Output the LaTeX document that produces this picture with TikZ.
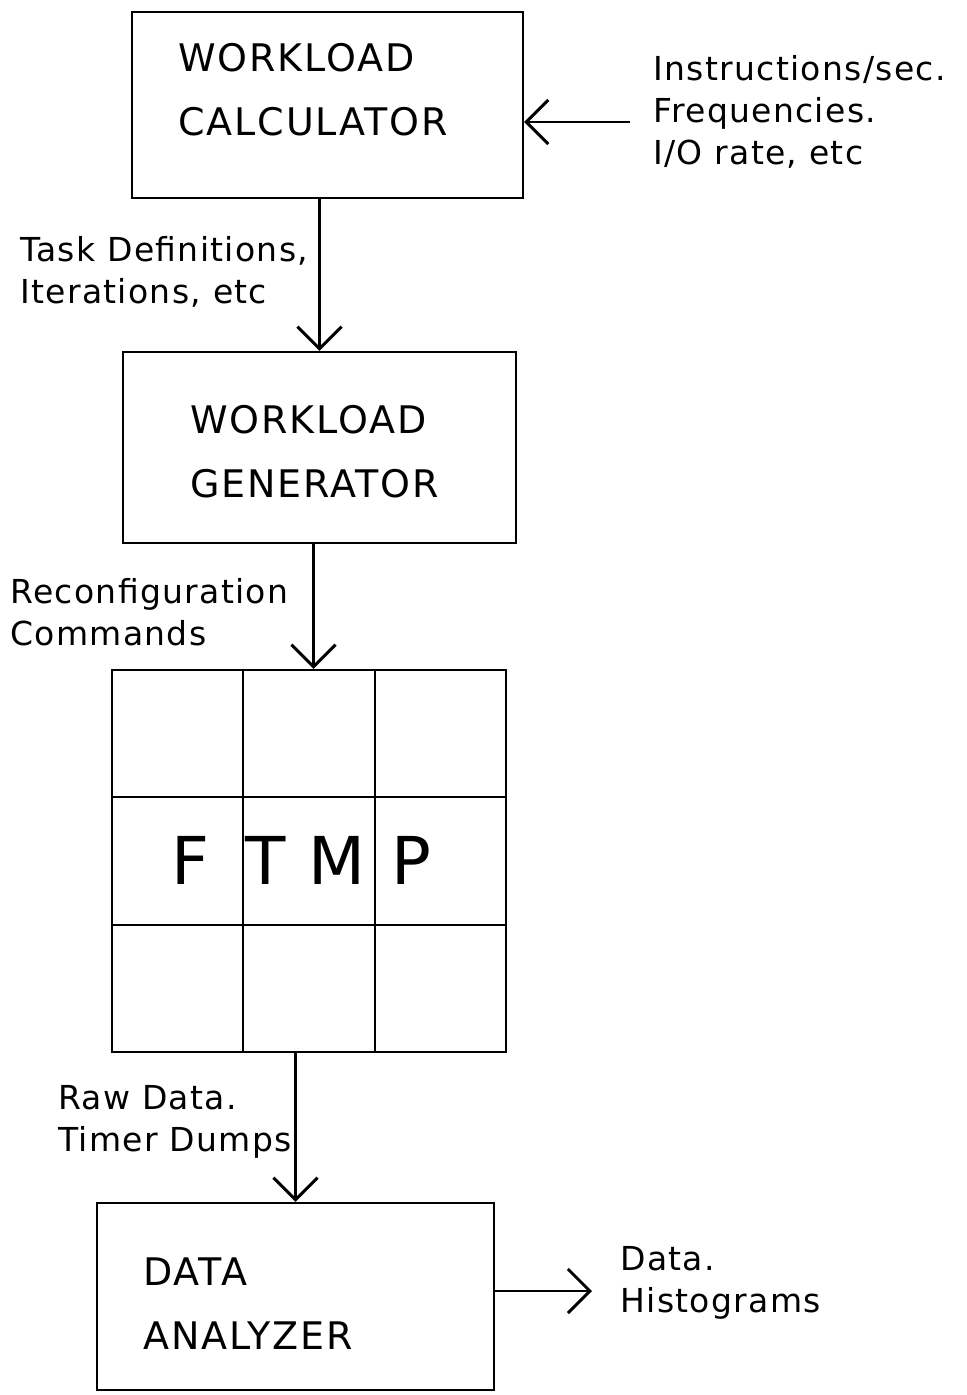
\documentclass[tikz,border=0pt]{standalone}
\usepackage{fontspec}
\setmainfont{DejaVu Sans}
\newfontfamily\spacedfont[LetterSpace=5]{DejaVu Sans}
\newfontfamily\labelfont[LetterSpace=4]{DejaVu Sans}
\usetikzlibrary{arrows.meta,calc}

\begin{document}
\begin{tikzpicture}[x=0.5pt,y=-0.5pt,
  box/.style={draw,line width=1.2pt,inner sep=0pt},
  boxtext/.style={anchor=west,align=left,inner sep=0pt,
    font=\spacedfont\fontsize{19}{32}\selectfont},
  lbl/.style={anchor=west,align=left,inner sep=0pt,
    font=\labelfont\fontsize{16.5}{21}\selectfont},
  cellletter/.style={inner sep=0pt,font=\fontsize{33}{33}\selectfont},
  flow/.style={line width=1.4pt,
    -{Straight Barb[length=11pt,width=22pt,line width=1.5pt]}},
]
% page frame
\fill[white] (0,0) rectangle (967,1395);
\useasboundingbox (0,0) rectangle (967,1395);

% processing blocks
\node[box,minimum width=195.5pt,minimum height=93pt] (calc) at (327.5,105) {};
\node[box,minimum width=196.5pt,minimum height=95.5pt] (gen) at (319.5,447.5) {};
\node[box,minimum width=197pt,minimum height=191pt] (ftmp) at (309,861) {};
\node[box,minimum width=198.5pt,minimum height=93.5pt] (ana) at (295.5,1296.5) {};

% block titles
\node[boxtext] (calct) at (178,90) {WORKLOAD\\CALCULATOR};
\node[boxtext] (gent) at (190,452) {WORKLOAD\\GENERATOR};
\node[boxtext] (anat) at (143,1304) {DATA\\ANALYZER};

% 3x3 processor grid
\foreach \f in {1,2} {
  \draw[line width=1.2pt] ($(ftmp.north west)!\f/3!(ftmp.north east)$)
    -- ($(ftmp.south west)!\f/3!(ftmp.south east)$);
  \draw[line width=1.2pt] ($(ftmp.north west)!\f/3!(ftmp.south west)$)
    -- ($(ftmp.north east)!\f/3!(ftmp.south east)$);
}
\node[cellletter] (lf) at (190,860) {F};
\node[cellletter] (lt) at (266,860) {T};
\node[cellletter] (lm) at (337,860) {M};
\node[cellletter] (lp) at (411,860) {P};

% inputs and outputs
\coordinate (src) at (630,122);
\coordinate (dst) at (592,1291);
\draw[flow] (src) -- (src -| calc.east);
\draw[flow] (gen.north |- calc.south) -- (gen.north);
\draw[flow] ([xshift=-3pt]gen.south) -- ([xshift=-3pt]gen.south |- ftmp.north);
\draw[flow] (ana.north |- ftmp.south) -- (ana.north);
\draw[flow] (dst -| ana.east) -- (dst);

% connector labels
\node[lbl] (inl) at (653,112) {Instructions/sec.\\Frequencies.\\I/O rate, etc};
\node[lbl] (taskl) at (20,272) {Task Definitions,\\Iterations, etc};
\node[lbl] (recl) at (10,612) {Reconfiguration\\Commands};
\node[lbl] (rawl) at (58,1122) {Raw Data.\\Timer Dumps};
\node[lbl] (outl) at (620,1283) {Data.\\Histograms};
\end{tikzpicture}
\end{document}
